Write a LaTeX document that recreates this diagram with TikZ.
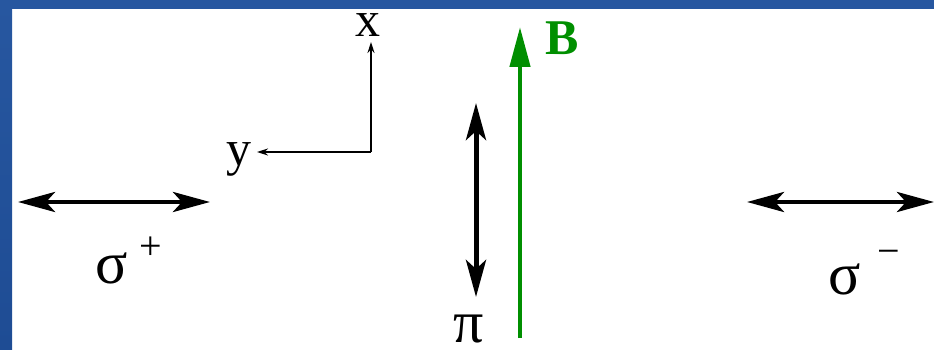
\documentclass[tikz,border=0pt]{standalone}
\usepackage{fontspec}
\setmainfont{Liberation Serif}
\usetikzlibrary{arrows.meta}
\definecolor{frameblue}{HTML}{2757A0}
\definecolor{framebluedark}{HTML}{1E4C94}
\definecolor{bgreen}{HTML}{008F00}
\tikzset{
  lbl/.style={inner sep=0pt, font=\fontsize{50}{52}\selectfont},
  greek/.style={inner sep=0pt, font=\fontsize{60}{62}\selectfont},
  suplbl/.style={inner sep=0pt, font=\fontsize{40}{42}\selectfont},
  polar/.style={line width=4.5pt, {Stealth[length=37pt,width=20pt,inset=9pt]}-{Stealth[length=37pt,width=20pt,inset=9pt]}},
  axis/.style={line width=1.5pt, -{Stealth[length=11pt,width=7pt]}},
  field/.style={bgreen, line width=4.5pt, -{Triangle[length=40pt,width=20pt]}}
}
\begin{document}
\begin{tikzpicture}[x=1pt,y=-1pt]
\useasboundingbox (0,0) rectangle (934,350);
% frame
\shade[top color=frameblue, bottom color=framebluedark] (0,0) rectangle (12,350);
\fill[frameblue] (0,0) rectangle (934,9);
% axes
\coordinate (o) at (371,152);
\coordinate (xe) at (371,42);
\coordinate (ye) at (257,152);
\draw[axis] (o) -- (xe);
\draw[axis] (o) -- (ye);
\node[lbl] (xl) at (368,25) {x};
\node[lbl] (yl) at (239,159) {y};
% sigma+ arrow
\coordinate (sl1) at (18,202);
\coordinate (sl2) at (210,202);
\draw[polar] (sl1) -- (sl2);
\node[greek] (sp) at (112,268) {σ};
\node[suplbl] (spp) at (151,248) {+};
% sigma- arrow
\coordinate (sr1) at (747,202);
\coordinate (sr2) at (934,202);
\draw[polar] (sr1) -- (sr2);
\node[greek] (sm) at (845,279) {σ};
\node[suplbl] (smm) at (889,257) {−};
% pi arrow
\coordinate (p1) at (476,103);
\coordinate (p2) at (476,297);
\draw[polar, line width=5pt] (p1) -- (p2);
\node[greek] (pl) at (469,329) {π};
% B field
\coordinate (b1) at (520,338);
\coordinate (b2) at (520,27);
\draw[field] (b1) -- (b2);
\node[lbl, bgreen, font=\fontsize{50}{52}\selectfont\bfseries] (bl) at (562,38) {B};
\end{tikzpicture}
\end{document}
